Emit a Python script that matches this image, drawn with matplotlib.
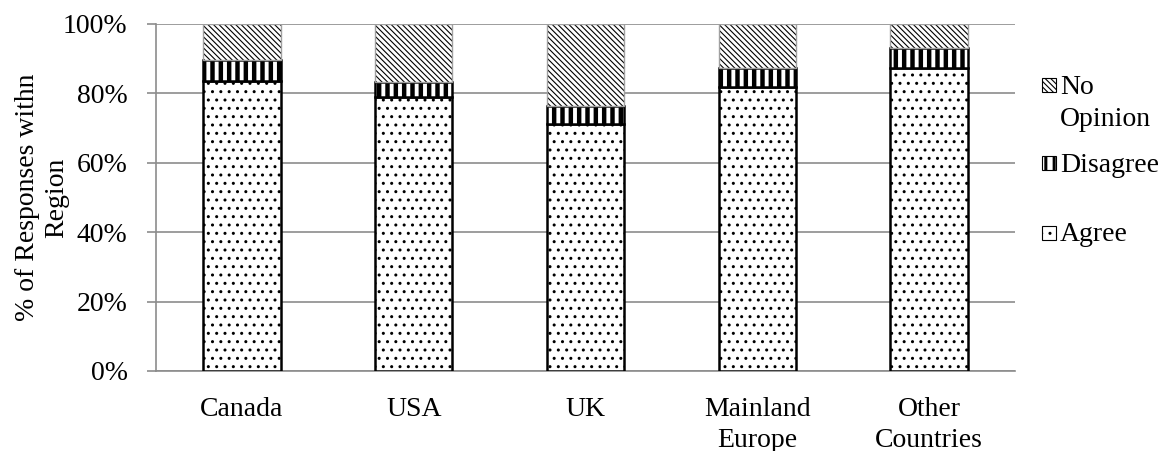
import numpy as np
import matplotlib.pyplot as plt
from matplotlib.patches import Rectangle

plt.rcParams['font.family'] = ['Liberation Serif', 'DejaVu Serif']
plt.rcParams['font.size'] = 20

regions = ['Canada', 'USA', 'UK', 'Mainland\nEurope', 'Other\nCountries']
agree = [83.6, 79.0, 71.2, 81.7, 87.4]
disagree = [6.0, 4.3, 5.3, 5.7, 5.6]
no_opinion = [10.4, 16.7, 23.5, 12.6, 7.0]

grey = '#8c8c8c'
x = np.arange(len(regions))
w = 0.45
agree = np.array(agree)
disagree = np.array(disagree)
no_opinion = np.array(no_opinion)

fig = plt.figure(figsize=(11.75, 4.51), dpi=100)
ax = fig.add_axes([0.1328, 0.1774, 0.8638 - 0.1328, 0.9468 - 0.1774])

# hatch styles per series: (hatch, hatch linewidth, edge linewidth)
styles = {
    'Agree': ('..', 1.0, 1.8),
    'Disagree': ('||', 3.2, 1.8),
    'No Opinion': ('\\' * 6, 0.8, 0),
}

def hbar(bottom, height, name):
    hatch, hlw, lw = styles[name]
    with plt.rc_context({'hatch.linewidth': hlw}):
        bars = ax.bar(x, height, w, bottom=bottom, color='white', hatch=hatch,
                      edgecolor='black', linewidth=lw, zorder=3)
    return bars

hbar(0, agree, 'Agree')
hbar(agree, disagree, 'Disagree')
hbar(agree + disagree, no_opinion, 'No Opinion')
ax.bar(x, no_opinion, w, bottom=agree + disagree, fill=False,
       edgecolor='#a0a0a0', linewidth=1, zorder=4)

ax.set_ylim(0, 100)
ax.set_xlim(-0.5, len(regions) - 0.5)
ax.set_yticks(np.arange(0, 101, 20))
ax.set_yticklabels(['%d%%' % v for v in range(0, 101, 20)])
ax.set_xticks(x)
ax.set_xticklabels(regions, linespacing=1.3)
ax.tick_params(axis='x', length=0, pad=19)
ax.tick_params(axis='y', length=6.5, width=1.2, color=grey, pad=14)
ax.yaxis.grid(True, color=grey, linewidth=1.2, zorder=0)
ax.set_axisbelow(True)
for s in ['top', 'right']:
    ax.spines[s].set_visible(False)
for s in ['left', 'bottom']:
    ax.spines[s].set_color(grey)
    ax.spines[s].set_linewidth(1.2)
ax.set_ylabel('% of Responses withn\nRegion', linespacing=1.2, labelpad=-4.5)

# legend drawn by hand so the key sits beside the first line of each label
legend_items = [('No Opinion', 'No\nOpinion', 0.824),
                ('Disagree', 'Disagree', 0.599),
                ('Agree', 'Agree', 0.398)]
kx, ks = 1.031, 0.0165
kh = ks * 859 / 347
for name, label, yc in legend_items:
    hatch, hlw, lw = styles[name]
    with plt.rc_context({'hatch.linewidth': min(hlw, 2.2)}):
        key = Rectangle((kx, yc - kh / 2), ks, kh, transform=ax.transAxes,
                        facecolor='white', edgecolor='black', hatch=hatch,
                        linewidth=0.8, clip_on=False)
    ax.add_patch(key)
    ax.text(kx + ks + 0.005, yc + 0.030, label, transform=ax.transAxes,
            ha='left', va='top', linespacing=1.38)

fig.savefig('out.png', dpi=100)
